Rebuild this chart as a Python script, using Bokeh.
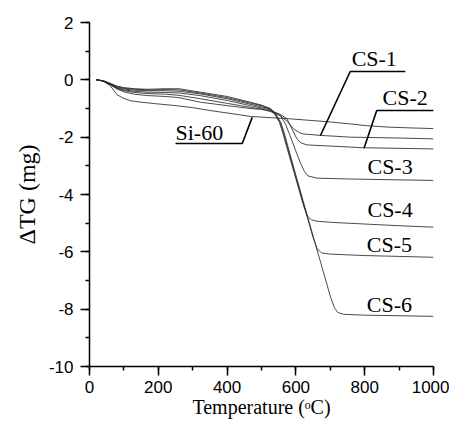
from bokeh.plotting import figure
from bokeh.models import SingleIntervalTicker, ColumnDataSource, Range1d, PrintfTickFormatter
from bokeh.core.properties import value
from bokeh.embed import file_html
from bokeh.resources import INLINE

# ---- data (Temperature in degC, dTG in mg) ----
t_si60 = [20, 40, 60, 80, 100, 120, 150, 190, 250, 300, 350, 420, 470, 500, 583, 690, 760, 806, 870, 940, 1000]
v_si60 = [0, -0.05, -0.2, -0.52, -0.65, -0.73, -0.78, -0.83, -0.9, -0.97, -1.07, -1.19, -1.28, -1.3, -1.36, -1.46, -1.54, -1.6, -1.65, -1.68, -1.7]

t_cs1 = [20, 40, 60, 80, 100, 130, 170, 220, 260, 322, 400, 467, 500, 525, 554, 575, 593, 610, 622, 675, 758, 900, 1000]
v_cs1 = [0, -0.04, -0.17, -0.32, -0.42, -0.5, -0.55, -0.58, -0.62, -0.78, -0.9, -1.0, -1.03, -1.1, -1.25, -1.45, -1.71, -1.84, -1.89, -1.94, -2.0, -2.03, -2.06]

t_cs2 = [20, 40, 60, 80, 100, 130, 170, 220, 260, 322, 400, 467, 500, 530, 554, 574, 590, 603, 615, 632, 700, 798, 1000]
v_cs2 = [0, -0.04, -0.16, -0.3, -0.38, -0.44, -0.48, -0.5, -0.54, -0.66, -0.82, -0.96, -1.02, -1.1, -1.2, -1.36, -1.75, -2.06, -2.2, -2.27, -2.31, -2.37, -2.41]

t_cs3 = [20, 40, 60, 80, 100, 130, 170, 220, 260, 322, 400, 467, 500, 530, 555, 570, 583, 612, 625, 635, 661, 758, 1000]
v_cs3 = [0, -0.04, -0.15, -0.28, -0.35, -0.4, -0.43, -0.44, -0.46, -0.55, -0.72, -0.9, -0.98, -1.06, -1.25, -1.55, -1.95, -2.87, -3.2, -3.35, -3.43, -3.46, -3.51]

t_cs4 = [20, 40, 60, 80, 100, 130, 170, 220, 260, 322, 400, 467, 500, 523, 538, 552, 562, 572, 600, 620, 633, 645, 660, 700, 800, 900, 1000]
v_cs4 = [0, -0.03, -0.14, -0.26, -0.32, -0.36, -0.38, -0.38, -0.4, -0.49, -0.66, -0.85, -0.94, -1.01, -1.2, -1.48, -1.85, -2.29, -3.45, -4.3, -4.75, -4.88, -4.93, -4.97, -5.03, -5.09, -5.14]

t_cs5 = [20, 40, 60, 80, 100, 130, 170, 220, 260, 322, 400, 467, 500, 525, 540, 554, 564, 574, 600, 630, 650, 662, 675, 700, 800, 900, 1000]
v_cs5 = [0, -0.03, -0.13, -0.24, -0.29, -0.33, -0.35, -0.34, -0.35, -0.46, -0.62, -0.81, -0.9, -1.01, -1.2, -1.48, -1.85, -2.29, -3.4, -4.67, -5.5, -5.9, -6.04, -6.08, -6.13, -6.16, -6.19]

t_cs6 = [20, 40, 60, 80, 100, 130, 170, 220, 260, 322, 400, 467, 500, 527, 542, 556, 566, 576, 600, 650, 700, 712, 722, 740, 800, 900, 1000]
v_cs6 = [0, -0.03, -0.12, -0.22, -0.27, -0.31, -0.33, -0.31, -0.31, -0.43, -0.58, -0.78, -0.88, -1.01, -1.2, -1.48, -1.85, -2.29, -3.33, -5.45, -7.55, -7.95, -8.12, -8.18, -8.21, -8.23, -8.25]

series = [(t_si60, v_si60), (t_cs1, v_cs1), (t_cs2, v_cs2), (t_cs3, v_cs3),
          (t_cs4, v_cs4), (t_cs5, v_cs5), (t_cs6, v_cs6)]

# curve labels (text, left x, vertical centre y) in data units
label_text = ["CS-1", "CS-2", "CS-3", "CS-4", "CS-5", "CS-6", "Si-60"]
label_x = [762, 852, 808, 808, 806, 806, 250]
label_y = [0.76, -0.61, -3.03, -4.53, -5.75, -7.84, -1.83]

# leader lines (underline + pointer) in data units
lead_xs = [[918, 758, 671], [1000, 835, 798], [250, 444, 473]]
lead_ys = [[0.29, 0.29, -1.95], [-1.07, -1.07, -2.39], [-2.22, -2.22, -1.31]]

x_ticks_interval = 200
y_ticks_interval = 2

p = figure(width=449, height=433, output_backend="svg", toolbar_location=None,
           x_range=Range1d(0, 1000), y_range=Range1d(-10, 2),
           min_border_left=89, min_border_right=16, min_border_top=22, min_border_bottom=67)
p.outline_line_color = None
p.xgrid.visible = False
p.ygrid.visible = False
p.background_fill_color = "white"
p.border_fill_color = "white"

for t, v in series:
    p.line(t, v, line_color="#2a2a2a", line_width=0.85)

p.multi_line(lead_xs, lead_ys, line_color="black", line_width=1.6)

src = ColumnDataSource(dict(x=label_x, y=label_y, t=label_text))
p.text(x="x", y="y", text="t", source=src, text_font=value("Liberation Serif"),
       text_font_size="22px", text_baseline="middle", text_align="left", text_color="black")

p.xaxis.ticker = SingleIntervalTicker(interval=x_ticks_interval, num_minor_ticks=2)
p.yaxis.ticker = SingleIntervalTicker(interval=y_ticks_interval, num_minor_ticks=2)
p.xaxis.formatter = PrintfTickFormatter(format="%d")
p.yaxis.formatter = PrintfTickFormatter(format="%d")

for ax in (p.xaxis[0], p.yaxis[0]):
    ax.axis_line_width = 1.5
    ax.axis_line_color = "black"
    ax.major_tick_line_width = 1.5
    ax.minor_tick_line_width = 1.5
    ax.major_tick_line_color = "black"
    ax.minor_tick_line_color = "black"
    ax.major_tick_out = 9
    ax.major_tick_in = 0
    ax.minor_tick_out = 4
    ax.minor_tick_in = 0
    ax.major_label_text_font = "Liberation Sans"
    ax.major_label_text_font_size = "17px"
    ax.major_label_text_color = "black"
    ax.axis_label_text_font = "Liberation Serif"
    ax.axis_label_text_font_style = "normal"
    ax.axis_label_text_color = "black"

p.xaxis.axis_label = "Temperature (\u1d52C)"
p.yaxis.axis_label = "\u0394TG (mg)"
p.xaxis.axis_label_text_font_size = "20px"
p.yaxis.axis_label_text_font_size = "24px"
p.xaxis.major_label_standoff = 5
p.yaxis.major_label_standoff = 7
p.xaxis.axis_label_standoff = 0
p.yaxis.axis_label_standoff = 6

open("out.html", "w").write(file_html(p, INLINE))
